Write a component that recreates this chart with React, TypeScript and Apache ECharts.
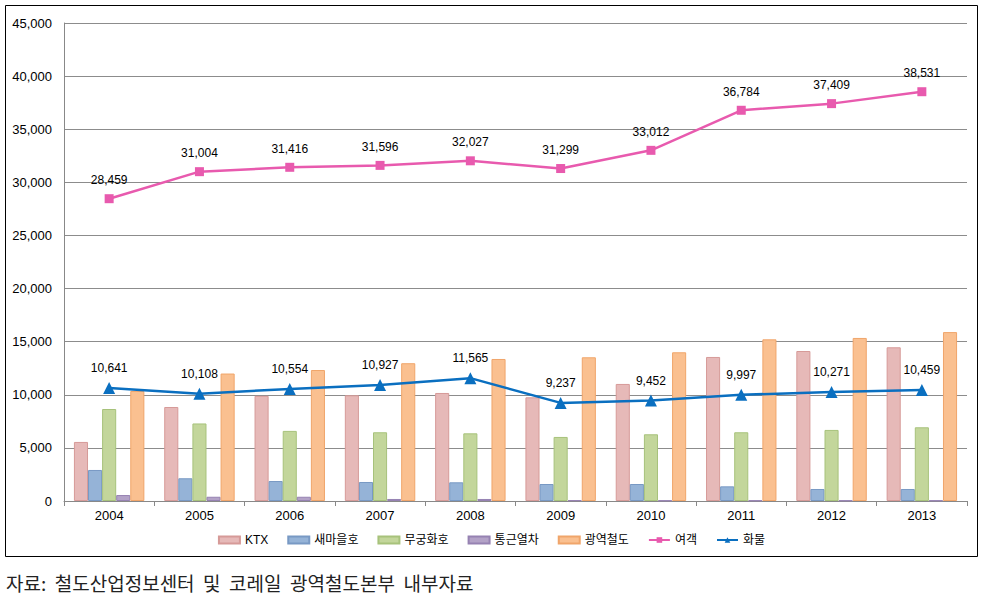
import React, { useEffect, useRef } from "react";
import * as echarts from "echarts";

const years = ["2004", "2005", "2006", "2007", "2008", "2009", "2010", "2011", "2012", "2013"];
const ktx = [5560, 8850, 9900, 9950, 10170, 9760, 11020, 13560, 14120, 14470];
const saemaeul = [2920, 2140, 1880, 1790, 1760, 1600, 1600, 1380, 1130, 1130];
const mugunghwa = [8660, 7300, 6600, 6470, 6370, 6030, 6280, 6470, 6690, 6940];
const commuter = [560, 400, 400, 190, 190, 70, 50, 50, 50, 50];
const metro = [10360, 12000, 12330, 12970, 13370, 13530, 14000, 15220, 15350, 15900];
const passenger = [28459, 31004, 31416, 31596, 32027, 31299, 33012, 36784, 37409, 38531];
const freight = [10641, 10108, 10554, 10927, 11565, 9237, 9452, 9997, 10271, 10459];
const yTicks = [0, 5000, 10000, 15000, 20000, 25000, 30000, 35000, 40000, 45000];

const FONT = "'Liberation Sans', 'Noto Sans CJK KR', sans-serif";

export default function App() {
  const ref = useRef<HTMLDivElement>(null);
  useEffect(() => {
    if (!ref.current) return;
    const chart = echarts.init(ref.current, null, { renderer: "svg" });
    const fmt = (v: number) => v.toLocaleString("en-US");
    const bar = (name: string, data: number[], color: string, border: string) => ({
      name,
      type: "bar",
      data,
      barGap: "0%",
      barCategoryGap: "22%",
      itemStyle: { color, borderColor: border, borderWidth: 1 },
    });
    const labelStyle = {
      show: true,
      position: "top",
      distance: 8,
      color: "#000",
      fontSize: 12,
      fontFamily: FONT,
      formatter: (p: any) => fmt(p.value),
    };
    chart.setOption({
      animation: false,
      textStyle: { fontFamily: FONT },
      grid: { left: 64, right: 16, top: 23, bottom: 103 },
      xAxis: {
        type: "category",
        data: years,
        axisLine: { lineStyle: { color: "#888", width: 1 } },
        axisTick: { show: true, length: 5, lineStyle: { color: "#888" } },
        axisLabel: { color: "#000", fontSize: 13, margin: 8, fontFamily: FONT },
      },
      yAxis: {
        type: "value",
        min: 0,
        max: 45000,
        interval: 5000,
        axisLine: { show: true, lineStyle: { color: "#888" } },
        axisTick: { show: false },
        splitLine: { lineStyle: { color: "#8c8c8c", width: 1 } },
        axisLabel: {
          color: "#000",
          fontSize: 13,
          margin: 12,
          fontFamily: FONT,
          formatter: (v: number) => (yTicks.includes(v) ? fmt(v) : ""),
        },
      },
      legend: {
        bottom: 53,
        left: "center",
        itemGap: 19,
        itemWidth: 21,
        itemHeight: 7,
        textStyle: { fontSize: 12, color: "#000", fontFamily: FONT },
        data: [
          { name: "KTX", icon: "rect" },
          { name: "새마을호", icon: "rect" },
          { name: "무궁화호", icon: "rect" },
          { name: "통근열차", icon: "rect" },
          { name: "광역철도", icon: "rect" },
          { name: "여객" },
          { name: "화물" },
        ],
      },
      series: [
        bar("KTX", ktx, "#e6b9b8", "#d69a98"),
        bar("새마을호", saemaeul, "#95b3d7", "#7899c4"),
        bar("무궁화호", mugunghwa, "#c3d69b", "#a7c27b"),
        bar("통근열차", commuter, "#b3a2c7", "#9682b2"),
        bar("광역철도", metro, "#fac090", "#f0a56a"),
        {
          name: "여객",
          type: "line",
          data: passenger,
          symbol: "rect",
          symbolSize: 9,
          lineStyle: { color: "#e85aae", width: 2.5 },
          itemStyle: { color: "#e85aae" },
          label: labelStyle,
          z: 5,
        },
        {
          name: "화물",
          type: "line",
          data: freight,
          symbol: "triangle",
          symbolSize: 12,
          lineStyle: { color: "#0a6fc0", width: 2.5 },
          itemStyle: { color: "#0a6fc0" },
          label: labelStyle,
          z: 5,
        },
      ],
      graphic: [
        {
          type: "rect",
          shape: { x: 5.5, y: 5.5, width: 972, height: 551 },
          style: { fill: "none", stroke: "#000", lineWidth: 1 },
          silent: true,
        },
        {
          type: "text",
          left: 6,
          top: 573,
          style: {
            text: "자료:  철도산업정보센터  및  코레일  광역철도본부  내부자료",
            font: "19px 'Noto Sans CJK KR', sans-serif",
            fill: "#222",
          },
        },
      ],
    });
    return () => chart.dispose();
  }, []);
  return (
    <div
      ref={ref}
      style={{ position: "fixed", left: 0, top: 0, width: 983, height: 604, background: "#fff" }}
    />
  );
}
